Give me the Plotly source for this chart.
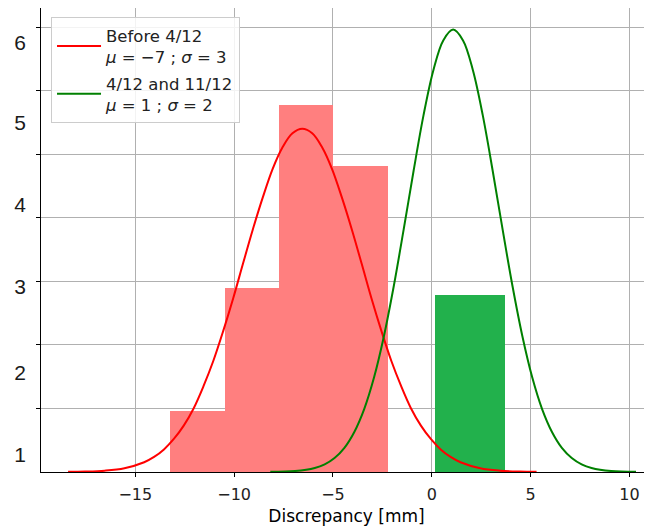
import plotly.graph_objects as go

# ---- data ----
red_bin_edges = [-13.25, -10.45, -7.73, -5.0, -2.22]
red_counts = [0.96, 2.89, 5.77, 4.81]
green_bin_edges = [0.15, 3.71]
green_counts = [2.79]

# fitted-curve points at regular steps
red_curve_x = [-18.4, -17.55, -16.55, -15.55, -14.55, -14.05, -13.55, -13.05, -12.55, -12.05,
               -11.55, -11.05, -10.55, -10.05, -9.55, -9.05, -8.55, -8.05, -7.55, -7.05,
               -6.55, -6.05, -5.55, -5.05, -4.55, -4.05, -3.55, -3.05, -2.55, -2.05,
               -1.55, -1.05, -0.55, -0.05, 0.45, 0.95, 1.45, 2.45, 3.45, 4.45, 5.3]
red_curve_y = [0.002, 0.0065, 0.021, 0.06, 0.154, 0.237, 0.355, 0.52, 0.73, 1.00,
               1.35, 1.75, 2.22, 2.73, 3.28, 3.82, 4.32, 4.77, 5.11, 5.33,
               5.40, 5.33, 5.11, 4.77, 4.32, 3.82, 3.28, 2.73, 2.22, 1.75,
               1.35, 1.00, 0.73, 0.52, 0.355, 0.237, 0.154, 0.06, 0.021, 0.0065, 0.002]

green_curve_x = [-8.17, -6.92, -5.92, -5.42, -4.92, -4.42, -3.92, -3.42, -2.92, -2.42,
                 -1.92, -1.42, -0.92, -0.42, 0.08, 0.58, 1.08, 1.58, 2.08, 2.58,
                 3.08, 3.58, 4.08, 4.58, 5.08, 5.58, 6.08, 6.58, 7.08, 7.58,
                 8.08, 9.08, 10.33]
green_curve_y = [0.002, 0.015, 0.063, 0.12, 0.22, 0.38, 0.63, 0.99, 1.49, 2.14,
                 2.93, 3.82, 4.74, 5.61, 6.32, 6.79, 6.96, 6.79, 6.32, 5.61,
                 4.74, 3.82, 2.93, 2.14, 1.49, 0.99, 0.63, 0.38, 0.22, 0.12,
                 0.063, 0.015, 0.002]

legend_red = "Before 4/12<br><i>μ</i> = −7 ; <i>σ</i> = 3"
legend_green = "4/12 and 11/12<br><i>μ</i> = 1 ; <i>σ</i> = 2"

x_tick_vals = [-15, -10, -5, 0, 5, 10]
x_tick_text = ["−15", "−10", "−5", "0", "5", "10"]
y_grid_vals = [1, 2, 3, 4, 5, 6, 7]
y_label_vals = [6.75, 5.50, 4.20, 2.91, 1.56, 0.27]
y_label_text = ["6", "5", "4", "3", "2", "1"]
x_title = "Discrepancy [mm]"

# ---- figure ----
def centers(edges):
    return [(a + b) / 2 for a, b in zip(edges[:-1], edges[1:])]

def widths(edges):
    return [b - a for a, b in zip(edges[:-1], edges[1:])]

fig = go.Figure()
fig.add_trace(go.Bar(x=centers(red_bin_edges), y=red_counts, width=widths(red_bin_edges),
                     marker=dict(color="#ff7f7f", line=dict(width=0)), showlegend=False,
                     hoverinfo="skip"))
fig.add_trace(go.Bar(x=centers(green_bin_edges), y=green_counts, width=widths(green_bin_edges),
                     marker=dict(color="#22b14c", line=dict(width=0)), showlegend=False,
                     hoverinfo="skip"))
fig.add_trace(go.Scatter(x=red_curve_x, y=red_curve_y, mode="lines", name=legend_red,
                         legendgroup="a",
                         line=dict(color="#ff0000", width=2, shape="spline", smoothing=1)))
fig.add_trace(go.Scatter(x=green_curve_x, y=green_curve_y, mode="lines", name=legend_green,
                         legendgroup="b",
                         line=dict(color="#008000", width=2, shape="spline", smoothing=1)))
# invisible anchor trace for the label axis
fig.add_trace(go.Scatter(x=[x_tick_vals[0]], y=[0], yaxis="y2", mode="markers",
                         marker=dict(opacity=0), showlegend=False, hoverinfo="skip"))

fig.update_layout(
    width=652, height=529,
    margin=dict(l=33, r=8, t=0, b=65),
    paper_bgcolor="white", plot_bgcolor="white",
    barmode="overlay", bargap=0,
    font=dict(family="DejaVu Sans", size=16, color="#000000"),
    xaxis=dict(range=[-19.77, 11.14], tickvals=x_tick_vals, ticktext=x_tick_text,
               ticks="outside", ticklen=4, tickcolor="#000", showline=True, linecolor="#000",
               linewidth=1, mirror=True, showgrid=True, gridcolor="#b0b0b0", gridwidth=1,
               zeroline=False, layer="above traces", ticklabelstandoff=4,
               title=dict(text=x_title, standoff=6, font=dict(size=17)),
               tickfont=dict(size=16, color="#222")),
    yaxis=dict(range=[0, 7.3], tickvals=y_grid_vals, ticktext=[""] * len(y_grid_vals),
               ticks="outside", ticklen=4, tickcolor="#000", showline=True, linecolor="#000",
               linewidth=1, showgrid=True, gridcolor="#b0b0b0", gridwidth=1,
               zeroline=False, layer="above traces"),
    yaxis2=dict(range=[0, 7.3], overlaying="y", side="left", tickvals=y_label_vals,
                ticktext=y_label_text, ticks="", showgrid=False, zeroline=False,
                showline=False, ticklabelstandoff=14,
                tickfont=dict(family="Liberation Sans", size=21, color="#1a1a1a")),
    legend=dict(x=0.0164, y=0.9806, xanchor="left", yanchor="top",
                bgcolor="rgba(255,255,255,0.85)", bordercolor="#cccccc", borderwidth=1,
                font=dict(family="DejaVu Sans", size=16.5, color="#222"), itemwidth=44,
                tracegroupgap=2),
)

fig.write_html("out.html")
